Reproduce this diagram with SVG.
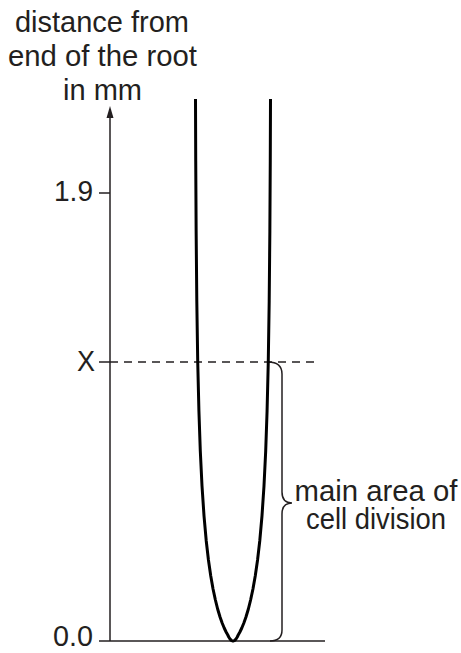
<svg xmlns="http://www.w3.org/2000/svg" width="461" height="653" viewBox="0 0 461 653">
<style>
.t{font-family:"Liberation Sans",Arial,Helvetica,sans-serif;font-size:29px;fill:#231f20}
.ax{stroke:#231f20;stroke-width:1.5;fill:none}
.root{stroke:#000;stroke-width:3;fill:none;stroke-linejoin:round;stroke-linecap:butt}
</style>
<rect width="461" height="653" fill="#fff"/>
<g id="axis-label">
<text class="t" x="102" y="32" text-anchor="middle" textLength="174" lengthAdjust="spacingAndGlyphs">distance from</text>
<text class="t" x="102.5" y="66" text-anchor="middle" textLength="189" lengthAdjust="spacingAndGlyphs">end of the root</text>
<text class="t" x="102.5" y="100" text-anchor="middle" textLength="79" lengthAdjust="spacingAndGlyphs">in mm</text>
</g>
<g id="tick-labels">
<text class="t" x="93" y="201" text-anchor="end" textLength="39" lengthAdjust="spacingAndGlyphs">1.9</text>
<text class="t" x="95" y="371" text-anchor="end" textLength="18" lengthAdjust="spacingAndGlyphs">X</text>
<text class="t" x="93" y="646" text-anchor="end" textLength="40" lengthAdjust="spacingAndGlyphs">0.0</text>
</g>
<g id="connectors">
<line class="ax" x1="110" y1="641" x2="110" y2="115"/>
<polygon points="110,106 106.5,118 113.5,118" fill="#231f20"/>
<line class="ax" x1="99" y1="641" x2="325" y2="641"/>
<line class="ax" x1="99" y1="193" x2="110" y2="193"/>
<line class="ax" x1="99" y1="362" x2="110" y2="362"/>
<line class="ax" x1="110" y1="362" x2="316" y2="362" stroke-dasharray="8 6"/>
<path class="ax" stroke-width="1.3" d="M268,362 Q282,362 282,374 L282,492 Q282,503 292,503 Q282,503 282,514 L282,630 Q282,641 270,641"/>
</g>
<g id="root">
<polyline class="root" points="195.5,99 195.73,161 196.14,231 196.8,301 197.73,362 198.92,411 200.3,451 202.01,486 204.02,516 206.25,541 208.44,560 210.76,576 213.05,589 215.4,600 217.64,609 220.04,617 222.15,623 224.2,628 226.11,632 227.79,635 228.75,637 230,639 230.87,640 231.65,640.6 233,641 234.35,640.6 235.13,640 236,639 237.25,637 238.21,635 239.89,632 241.8,628 243.85,623 245.96,617 248.36,609 250.6,600 252.95,589 255.24,576 257.56,560 259.75,541 261.98,516 263.99,486 265.7,451 267.08,411 268.27,362 269.2,301 269.86,231 270.27,161 270.5,99"/>
</g>
<g id="label">
<text class="t" x="376" y="501" text-anchor="middle" textLength="163" lengthAdjust="spacingAndGlyphs">main area of</text>
<text class="t" x="376" y="529" text-anchor="middle" textLength="140" lengthAdjust="spacingAndGlyphs">cell division</text>
</g>
</svg>
